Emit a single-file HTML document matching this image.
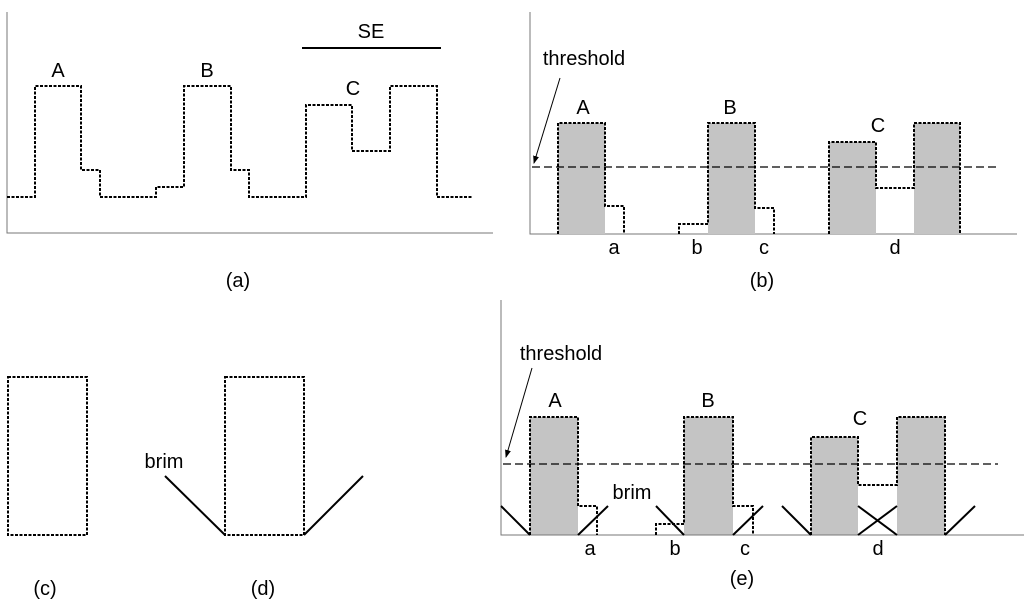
<!DOCTYPE html>
<html><head><meta charset="utf-8"><style>
html,body{margin:0;padding:0;background:#fff}
svg{display:block}
text{font-family:"Liberation Sans",Arial,sans-serif;fill:#000}
</style></head><body>
<svg width="1024" height="604" viewBox="0 0 1024 604" xmlns="http://www.w3.org/2000/svg">
<defs>
<marker id="ar" markerWidth="8" markerHeight="8" refX="7" refY="4" orient="auto" markerUnits="userSpaceOnUse"><path d="M0,1 L8,4 L0,7 z" fill="#000"/></marker>
</defs>
<g fill="none" stroke="#000">
<!-- (a) -->
<path d="M7,12 V233 H493" stroke="#777" stroke-width="1"/>
<path d="M7,197 H35 V86 H81 V170 H100 V197 H156 V187 H184 V86 H231 V170 H249 V197 H306 V105 H352 V151 H390 V86 H437 V197 H472" stroke-width="2" stroke-dasharray="3,1.5"/>
<line x1="302" y1="48" x2="441" y2="48" stroke-width="2"/>
<!-- (b) -->
<path d="M530,12 V234 H1017" stroke="#777" stroke-width="1"/>
</g>
<g fill="#c4c4c4">
<rect x="558" y="123" width="47" height="111"/>
<rect x="708" y="123" width="47" height="111"/>
<rect x="829" y="142" width="47" height="92"/>
<rect x="914" y="123" width="46" height="111"/>
<rect x="530" y="417" width="48" height="118"/>
<rect x="684" y="417" width="49" height="118"/>
<rect x="811" y="437" width="47" height="98"/>
<rect x="897" y="417" width="48" height="118"/>
</g>
<g fill="none" stroke="#000">
<path d="M558,234 V123 H605 V206 H624 V234 M679,234 V224 H708 V123 H755 V208 H774 V234 M829,234 V142 H876 V188 H914 V123 H960 V234" stroke-width="2" stroke-dasharray="3,1.5"/>
<line x1="532" y1="167" x2="998" y2="167" stroke-width="1.3" stroke-dasharray="8,4"/>
<line x1="560" y1="78" x2="534" y2="163" stroke-width="1" marker-end="url(#ar)"/>
<!-- (e) -->
<path d="M501,300 V535 H1024" stroke="#777" stroke-width="1"/>
<path d="M530,535 V417 H578 V506 H597 V535 M656,535 V524 H684 V417 H733 V506 H753 V535 M811,535 V437 H858 V485 H897 V417 H945 V535" stroke-width="2" stroke-dasharray="3,1.5"/>
<line x1="503" y1="464" x2="998" y2="464" stroke-width="1.3" stroke-dasharray="8,4"/>
<line x1="532" y1="368" x2="506" y2="457" stroke-width="1" marker-end="url(#ar)"/>
<g stroke-width="2">
<line x1="501" y1="506" x2="530" y2="535"/><line x1="578" y1="535" x2="608" y2="506"/>
<line x1="656" y1="506" x2="684" y2="535"/><line x1="733" y1="535" x2="763" y2="506"/>
<line x1="782" y1="506" x2="811" y2="535"/><line x1="858" y1="506" x2="897" y2="535"/><line x1="858" y1="535" x2="897" y2="506"/><line x1="945" y1="535" x2="975" y2="506"/>
</g>
<!-- (c),(d) -->
<rect x="8" y="377" width="79" height="158" stroke-width="2" stroke-dasharray="3,1.5"/>
<rect x="225" y="377" width="79" height="158" stroke-width="2" stroke-dasharray="3,1.5"/>
<line x1="165" y1="476" x2="225" y2="535" stroke-width="2"/>
<line x1="304" y1="535" x2="363" y2="476" stroke-width="2"/>
</g>
<g font-size="20" text-anchor="middle">
<text x="371" y="38">SE</text>
<text x="58" y="77">A</text><text x="207" y="77">B</text><text x="353" y="95">C</text>
<text x="238" y="287">(a)</text>
<text x="584" y="65">threshold</text>
<text x="583" y="114">A</text><text x="730" y="114">B</text><text x="878" y="132">C</text>
<text x="614" y="254">a</text><text x="697" y="254">b</text><text x="764" y="254">c</text><text x="895" y="254">d</text>
<text x="762" y="287">(b)</text>
<text x="561" y="360">threshold</text>
<text x="555" y="407">A</text><text x="708" y="407">B</text><text x="860" y="425">C</text>
<text x="632" y="499">brim</text>
<text x="590" y="555">a</text><text x="675" y="555">b</text><text x="745" y="555">c</text><text x="878" y="555">d</text>
<text x="742" y="585">(e)</text>
<text x="164" y="468">brim</text>
<text x="45" y="595">(c)</text><text x="263" y="595">(d)</text>
</g>
</svg>
</body></html>
